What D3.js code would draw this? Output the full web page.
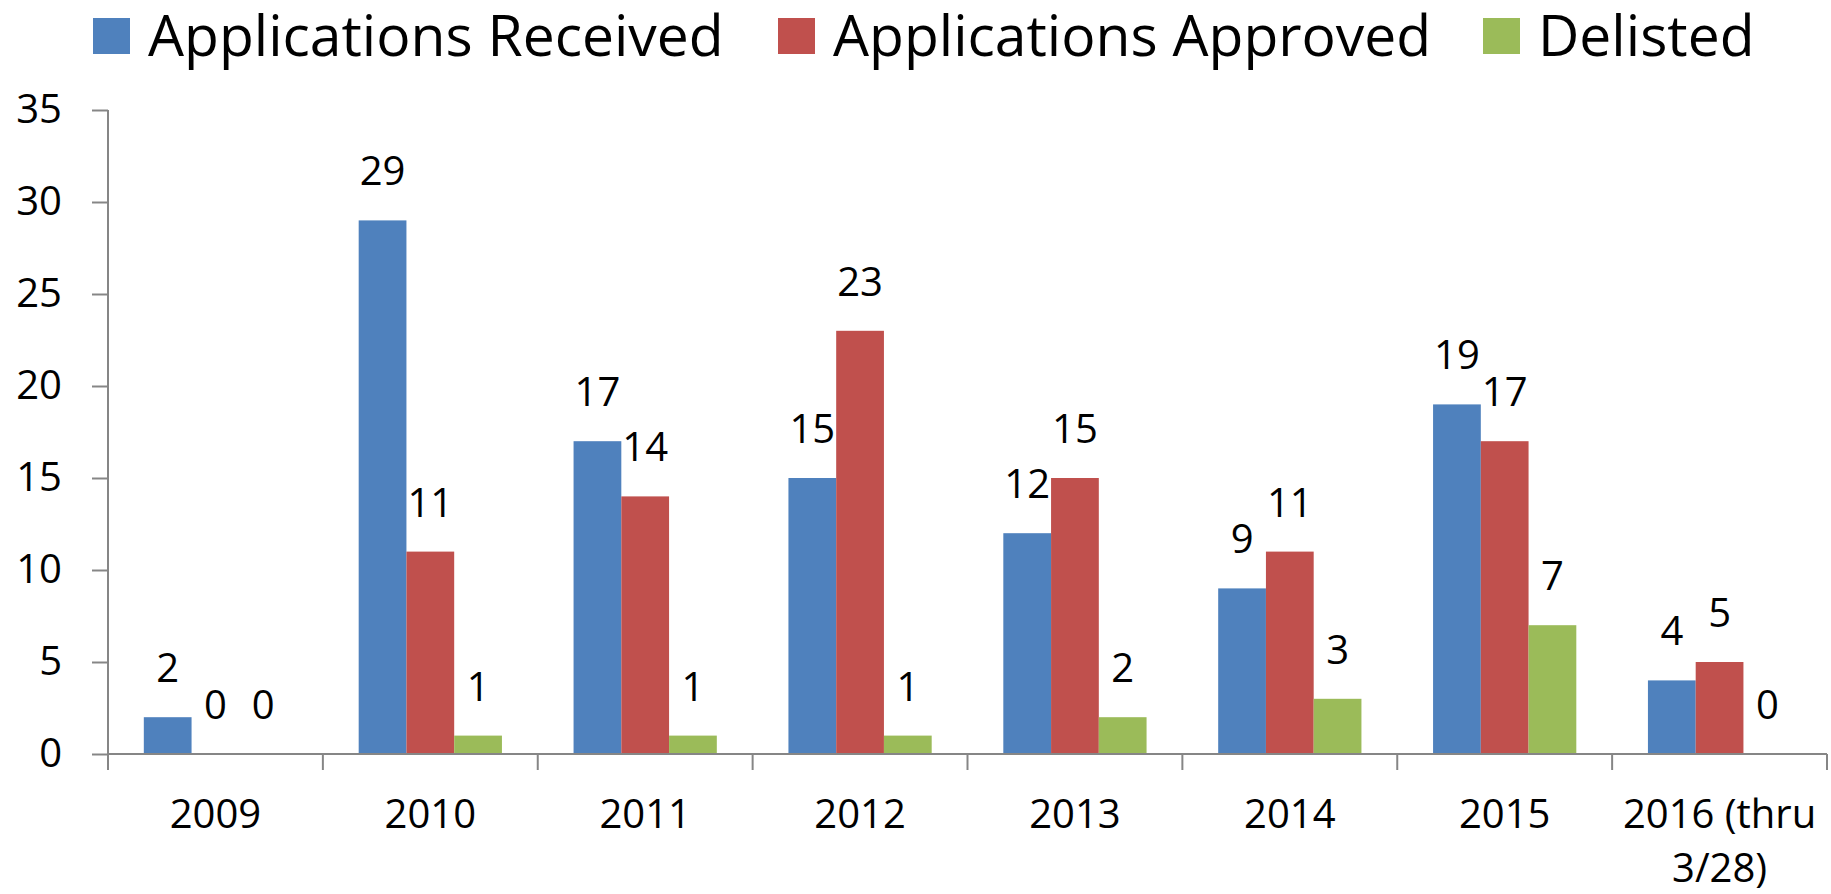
<!DOCTYPE html>
<html lang="en">
    <head>
        <meta charset="utf-8">
        <title>Applications chart</title>
        <script type="text/javascript" src="https://cdn.jsdelivr.net/npm/d3@7"></script>
        <style type="text/css">
            body {
                margin: 0;
                background: white;
            }
            text {
                font-family: "Open Sans", sans-serif;
                fill: #000;
            }
            .axis path,
            .axis line {
                fill: none;
                stroke: #868686;
                stroke-width: 2px;
            }
            .axis text {
                font-size: 40px;
            }
        </style>
    </head>
    <body>
        <script type="text/javascript">
            //Data
            var categories = ["2009", "2010", "2011", "2012", "2013", "2014", "2015", "2016 (thru\n3/28)"];
            var seriesNames = ["Applications Received", "Applications Approved", "Delisted"];
            var received = [2, 29, 17, 15, 12, 9, 19, 4];
            var approved = [0, 11, 14, 23, 15, 11, 17, 5];
            var delisted = [0, 1, 1, 1, 2, 3, 7, 0];
            var yTicks = [0, 5, 10, 15, 20, 25, 30, 35];
            var colors = ["#4F81BD", "#C0504D", "#9BBB59"];

            var seriesValues = [received, approved, delisted];

            //Width and height (plot edges; avoid window.top etc.)
            var w = 1831;
            var h = 894;
            var plotLeft = 108, plotRight = 1827, plotTop = 110, plotBottom = 754;

            var svg = d3.select("body")
                        .append("svg")
                        .attr("width", w)
                        .attr("height", h);

            //Scales
            var xScale = d3.scaleBand()
                           .domain(categories)
                           .range([plotLeft, plotRight])
                           .padding(0);

            //Bars inside a category: gap width 150%
            var xInner = d3.scaleBand()
                           .domain(d3.range(seriesNames.length))
                           .range([0, xScale.bandwidth()])
                           .paddingInner(0)
                           .paddingOuter(0.75);

            var yScale = d3.scaleLinear()
                           .domain([0, 35])
                           .range([plotBottom, plotTop]);

            //Y axis
            var yAxis = d3.axisLeft(yScale)
                          .tickValues(yTicks)
                          .tickSize(16)
                          .tickPadding(30);

            var gy = svg.append("g")
                        .attr("class", "axis")
                        .attr("transform", "translate(" + plotLeft + ",0)")
                        .call(yAxis);
            gy.select(".domain").remove();
            gy.append("line")
              .attr("x1", 0).attr("x2", 0)
              .attr("y1", yScale(35)).attr("y2", plotBottom + 16);

            //Bars
            var groups = svg.selectAll("g.series")
                            .data(seriesValues)
                            .enter()
                            .append("g")
                            .attr("class", "series")
                            .attr("fill", function(d, i) { return colors[i]; });

            groups.selectAll("rect")
                  .data(function(d, si) {
                      return d.map(function(v, ci) { return {s: si, c: categories[ci], v: v}; });
                  })
                  .enter()
                  .append("rect")
                  .attr("x", function(d) { return xScale(d.c) + xInner(d.s); })
                  .attr("y", function(d) { return yScale(d.v); })
                  .attr("width", xInner.bandwidth())
                  .attr("height", function(d) { return plotBottom - yScale(d.v); });

            //Data labels
            groups.selectAll("text")
                  .data(function(d, si) {
                      return d.map(function(v, ci) { return {s: si, c: categories[ci], v: v}; });
                  })
                  .enter()
                  .append("text")
                  .attr("text-anchor", "middle")
                  .attr("font-size", "40px")
                  .attr("x", function(d) { return xScale(d.c) + xInner(d.s) + xInner.bandwidth() / 2; })
                  .attr("y", function(d) { return yScale(d.v) - 35; })
                  .text(function(d) { return d.v; });

            //X axis: line with ticks at category boundaries
            var gx = svg.append("g")
                        .attr("class", "axis");
            gx.append("line")
              .attr("x1", plotLeft).attr("x2", plotRight)
              .attr("y1", plotBottom).attr("y2", plotBottom);
            var bounds = categories.map(function(c) { return xScale(c); }).concat([plotRight]);
            gx.selectAll("line.tick")
              .data(bounds)
              .enter()
              .append("line")
              .attr("class", "tick")
              .attr("x1", function(d) { return d; })
              .attr("x2", function(d) { return d; })
              .attr("y1", plotBottom)
              .attr("y2", plotBottom + 16);

            var xl = gx.selectAll("text")
                       .data(categories)
                       .enter()
                       .append("text")
                       .attr("text-anchor", "middle")
                       .attr("x", function(d) { return xScale(d) + xScale.bandwidth() / 2; })
                       .attr("y", 828);
            xl.selectAll("tspan")
              .data(function(d) { return d.split("\n"); })
              .enter()
              .append("tspan")
              .attr("x", function() { return d3.select(this.parentNode).attr("x"); })
              .attr("dy", function(d, i) { return i === 0 ? 0 : 54; })
              .text(function(d) { return d; });

            //Legend
            var legendX = [93, 778, 1483];
            var legend = svg.selectAll("g.legend")
                            .data(seriesNames)
                            .enter()
                            .append("g")
                            .attr("class", "legend")
                            .attr("transform", function(d, i) { return "translate(" + legendX[i] + ",0)"; });
            legend.append("rect")
                  .attr("x", 0)
                  .attr("y", 18)
                  .attr("width", 37)
                  .attr("height", 36)
                  .attr("fill", function(d, i) { return colors[i]; });
            legend.append("text")
                  .attr("x", 55)
                  .attr("y", 56)
                  .attr("font-size", "57px")
                  .text(function(d) { return d; });
        </script>
    </body>
</html>
